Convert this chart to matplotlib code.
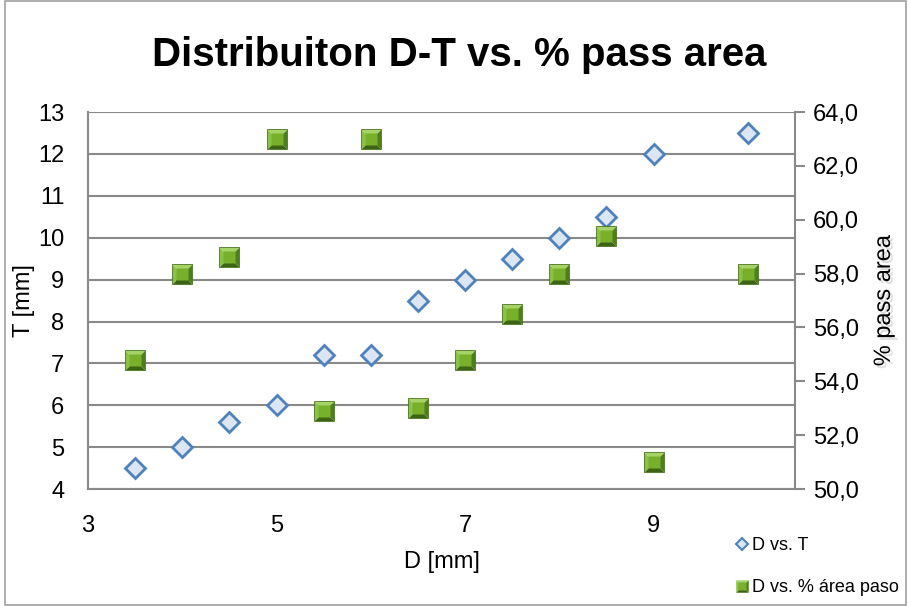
import matplotlib
matplotlib.use("Agg")
import matplotlib.pyplot as plt
import matplotlib.patheffects as pe
from matplotlib.patches import Rectangle
from matplotlib.lines import Line2D

# ── Data ───────────────────────────────────────────────────────────────────────
d_mm      = [3.5, 4.0, 4.5, 5.0, 5.5, 6.0, 6.5, 7.0, 7.5, 8.0, 8.5, 9.0, 10.0]
t_mm      = [4.5, 5.0, 5.6, 6.0, 7.2, 7.2, 8.5, 9.0, 9.5, 10.0, 10.5, 12.0, 12.5]
pass_area = [54.8, 58.0, 58.6, 63.0, 52.9, 63.0, 53.0, 54.8, 56.5, 58.0, 59.4, 51.0, 58.0]

x_ticks     = [3, 5, 7, 9]
t_ticks     = list(range(4, 14))
area_ticks  = [50, 52, 54, 56, 58, 60, 62, 64]
area_labels = ["50,0", "52,0", "54,0", "56,0", "58,0", "60,0", "62,0", "64,0"]

# ── Style ──────────────────────────────────────────────────────────────────────
FONT       = ["Liberation Sans", "DejaVu Sans"]
GRID_GRAY  = "#898989"
BLUE_EDGE  = "#4F81BD"
BLUE_FACE  = "#DCE6F2"

# bevelled green square: (marker, colour) pieces stacked on top of each other
BEVEL = [
    ([(-1, 1), (1, 1), (0, 0)],   "#A6D464"),   # top
    ([(-1, -1), (-1, 1), (0, 0)], "#8AC245"),   # left
    ([(1, 1), (1, -1), (0, 0)],   "#4F7F1C"),   # right
    ([(-1, -1), (1, -1), (0, 0)], "#3B6512"),   # bottom
]
GREEN_FACE = "#78B02C"
GREEN_EDGE = "#44701A"

plt.rcParams["font.family"] = FONT


def green_square(ax, xs, ys, size, **kw):
    artists = []
    for verts, col in BEVEL:
        artists += ax.plot(xs, ys, linestyle="none", marker=verts, markersize=size,
                           markerfacecolor=col, markeredgecolor="none", **kw)
    artists += ax.plot(xs, ys, linestyle="none", marker="s", markersize=size * 0.62,
                       markerfacecolor=GREEN_FACE, markeredgecolor="none", **kw)
    artists += ax.plot(xs, ys, linestyle="none", marker="s", markersize=size,
                       markerfacecolor="none", markeredgecolor=GREEN_EDGE,
                       markeredgewidth=0.6, **kw)
    return artists


fig = plt.figure(figsize=(9.1, 6.06), dpi=100)
ax = fig.add_axes([0.0967, 0.193, 0.7769, 0.622])
ax2 = ax.twinx()

# outer chart border
fig.patches.append(Rectangle((0.006, 0.002), 0.99, 0.996, transform=fig.transFigure,
                             fill=False, edgecolor="#A0A0A0", linewidth=1.2))

# primary: D vs T
ax.plot(d_mm, t_mm, linestyle="none", marker="D", markersize=10,
        markerfacecolor=BLUE_FACE, markeredgecolor=BLUE_EDGE, markeredgewidth=2,
        zorder=4)

# secondary: D vs % area
green_square(ax2, d_mm, pass_area, 14, zorder=4)

ax.set_xlim(3, 10.5)
ax.set_ylim(4, 13)
ax2.set_ylim(50, 64)

ax.set_xticks(x_ticks)
ax.set_yticks(t_ticks)
ax2.set_yticks(area_ticks)
ax2.set_yticklabels(area_labels)

ax.grid(axis="y", color=GRID_GRAY, linewidth=1.5)
ax.set_axisbelow(True)

for a in (ax, ax2):
    for s in a.spines.values():
        s.set_visible(False)
ax.spines["left"].set_visible(True)
ax.spines["bottom"].set_visible(True)
ax2.spines["right"].set_visible(True)
for s in (ax.spines["left"], ax.spines["bottom"], ax2.spines["right"]):
    s.set_color(GRID_GRAY)
    s.set_linewidth(1.5)

ax.tick_params(axis="x", length=0, labelsize=17, pad=19)
ax.tick_params(axis="y", length=0, labelsize=17, pad=17)
ax2.tick_params(axis="y", length=7, width=1.5, color=GRID_GRAY, labelsize=17, pad=6)

ax.set_xlabel("D [mm]", fontsize=17, labelpad=10)
ax.set_ylabel("T [mm]", fontsize=17, labelpad=2)
ax2.set_ylabel("% pass area", fontsize=17, labelpad=10,
               path_effects=[pe.SimplePatchShadow(offset=(2, -2), alpha=0.2,
                                                  shadow_rgbFace="#555555"),
                             pe.Normal()])

fig.text(0.505, 0.909, "Distribuiton D-T vs. % pass area", fontsize=29,
         fontweight="bold", ha="center", va="center")

handles = [
    Line2D([], [], linestyle="none", marker="D", markersize=6,
           markerfacecolor=BLUE_FACE, markeredgecolor=BLUE_EDGE, markeredgewidth=1.5),
    tuple(Line2D([], [], linestyle="none", marker=verts, markersize=9,
                 markerfacecolor=col, markeredgecolor="none") for verts, col in BEVEL)
    + (Line2D([], [], linestyle="none", marker="s", markersize=5.5,
              markerfacecolor=GREEN_FACE, markeredgecolor="none"),),
]
fig.legend(handles, ["D vs. T", "D vs. % área paso"], loc="upper left",
           bbox_to_anchor=(0.8, 0.125), frameon=False, fontsize=13,
           handlelength=0.7, handletextpad=0.25, labelspacing=1.35,
           borderaxespad=0)

fig.savefig("out.png", dpi=100)
